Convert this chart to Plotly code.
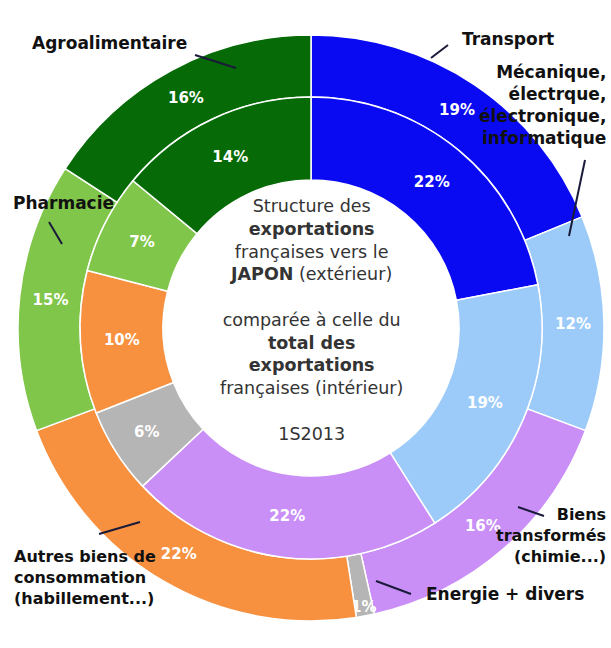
import plotly.graph_objects as go

categories = ["Transport", "Mécanique, électrque, électronique, informatique",
              "Biens transformés (chimie...)", "Energie + divers",
              "Autres biens de consommation (habillement...)", "Pharmacie", "Agroalimentaire"]
japon_values = [19, 12, 16, 1, 22, 15, 16]      # outer ring
total_values = [22, 19, 22, 6, 10, 7, 14]       # inner ring
colors = ["#0a0af2", "#9ccbfa", "#c98ff7", "#b5b5b5", "#f7913f", "#80c64a", "#066b06"]

# text, x, y, alignment, font size, leader line
outer_labels = [
    ("<b>Agroalimentaire</b>", 109, 43, "center", 17, [(195, 55), (236, 68)]),
    ("<b>Transport</b>", 508, 39, "center", 17, [(448, 45), (431, 58)]),
    ("<b>Mécanique,<br>électrque,<br>électronique,<br>informatique</b>", 608, 105, "right", 17, [(585, 160), (569, 236)]),
    ("<b>Pharmacie</b>", 11, 203, "left", 17, [(49, 222), (62, 244)]),
    ("<b>Autres biens de<br>consommation<br>(habillement...)</b>", 12, 577, "left", 16, [(99, 534), (140, 522)]),
    ("<b>Biens<br>transformés<br>(chimie...)</b>", 608, 535, "right", 16, [(518, 507), (544, 516)]),
    ("<b>Energie + divers</b>", 505, 594, "center", 17, [(376, 581), (411, 594)]),
]

W, H = 611, 648
cx, cy = 311, 328
r_out, r_mid, r_in = 293, 231, 148

def dom(r):
    return dict(x=[(cx - r) / W, (cx + r) / W], y=[1 - (cy + r) / H, 1 - (cy - r) / H])

fig = go.Figure()
common = dict(sort=False, direction="clockwise", rotation=0, textposition="inside",
              insidetextorientation="horizontal", texttemplate="<b>%{value}%</b>",
              textfont=dict(family="DejaVu Sans", size=15, color="white"),
              marker=dict(colors=colors, line=dict(color="white", width=1.5)),
              showlegend=False, hoverinfo="label+value")
fig.add_trace(go.Pie(labels=categories, values=japon_values, hole=r_mid / r_out,
                     domain=dom(r_out), **common))
fig.add_trace(go.Pie(labels=categories, values=total_values, hole=r_in / r_mid,
                     domain=dom(r_mid), **common))

shapes = []
annotations = []
for text, x, y, align, size, line in outer_labels:
    annotations.append(dict(x=x / W, y=1 - y / H, xref="paper", yref="paper", text=text,
                            showarrow=False, xanchor=align, yanchor="middle", align=align,
                            font=dict(family="DejaVu Sans", size=size, color="#111111")))
    (x0, y0), (x1, y1) = line
    shapes.append(dict(type="line", xref="paper", yref="paper", x0=x0 / W, y0=1 - y0 / H,
                       x1=x1 / W, y1=1 - y1 / H, line=dict(color="#1a1a3a", width=2)))

center_text = ("Structure des<br><b>exportations</b><br>françaises vers le<br>"
               "<b>JAPON</b> (extérieur)<br><br>comparée à celle du<br><b>total des</b><br>"
               "<b>exportations</b><br>françaises (intérieur)<br><br>1S2013")
annotations.append(dict(x=cx / W, y=1 - 320 / H, xref="paper", yref="paper", text=center_text,
                        showarrow=False, xanchor="center", yanchor="middle", align="center",
                        font=dict(family="DejaVu Sans", size=17.5, color="#333333")))

fig.update_layout(width=W, height=H, margin=dict(l=0, r=0, t=0, b=0),
                  paper_bgcolor="white", plot_bgcolor="white",
                  shapes=shapes, annotations=annotations,
                  uniformtext=dict(minsize=15, mode="show"))
fig.write_html("out.html", config={"displayModeBar": False},
               post_script="document.body.style.margin='0';document.body.style.overflow='hidden';")
